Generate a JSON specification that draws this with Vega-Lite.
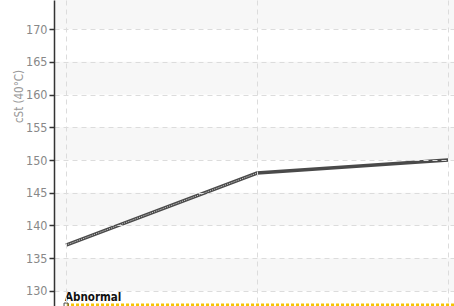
{
  "$schema": "https://vega.github.io/schema/vega-lite/v6.json",
  "autosize": "none",
  "padding": {"left": 54, "top": 0, "right": 0, "bottom": 0},
  "width": 400,
  "height": 306,
  "background": "white",
  "config": {"view": {"stroke": null}, "font": "DejaVu Sans Condensed, Roboto, sans-serif"},
  "datasets": {
    "bands": [
      {"cst": 170, "cst2": 175},
      {"cst": 160, "cst2": 165},
      {"cst": 150, "cst2": 155},
      {"cst": 140, "cst2": 145},
      {"cst": 130, "cst2": 135}
    ],
    "series": [
      {"sample": 0, "cst": 137},
      {"sample": 1, "cst": 148},
      {"sample": 2, "cst": 150}
    ],
    "first": [
      {"sample": 0, "cst": 137},
      {"sample": 1, "cst": 148}
    ],
    "limit": [
      {"sample": 0, "cst": 127.85, "label": "Abnormal"},
      {"sample": 2.1, "cst": 127.85, "label": ""}
    ]
  },
  "encoding": {
    "y": {"field": "cst", "type": "quantitative", "scale": {"domain": [127.7, 174.44], "nice": false, "zero": false},
      "axis": {"values": [130, 135, 140, 145, 150, 155, 160, 165, 170, 175], "zindex": 1, "labelOverlap": false,
        "title": "cSt (40°C)", "titleColor": "#999", "titleFont": "DejaVu Sans Condensed, Roboto, sans-serif", "titleFontSize": 11.5, "titleFontWeight": "normal",
        "titleX": -30, "titleY": 96, "titleAlign": "center", "titleBaseline": "bottom", "titleAngle": -90,
        "labelColor": "#888", "labelFont": "DejaVu Sans Condensed, Roboto, sans-serif", "labelFontSize": 12.5, "labelPadding": 2,
        "domainColor": "#333", "domainWidth": 1.5, "tickColor": "#333", "tickSize": 5, "tickWidth": 1.5,
        "grid": true, "gridColor": "#dcdcdc", "gridDash": [5, 4], "gridWidth": 1}}
  },
  "layer": [
    {
      "data": {"name": "bands"},
      "mark": {"type": "rect", "fill": "#f7f7f7", "clip": true},
      "encoding": {
        "y2": {"field": "cst2"}
      }
    },
    {
      "data": {"name": "series"},
      "mark": {"type": "line", "color": "#4a4a4a", "strokeWidth": 3.5, "clip": true},
      "encoding": {
        "x": {"field": "sample", "type": "quantitative", "scale": {"domain": [-0.063, 2.031], "nice": false, "zero": false},
          "axis": {"values": [0, 1, 2], "zindex": 1, "labels": false, "ticks": false, "domain": false, "title": null, "grid": true, "gridColor": "#dcdcdc", "gridDash": [5, 4], "gridWidth": 1}}
      }
    },
    {
      "data": {"name": "first"},
      "mark": {"type": "line", "color": "#d8d8d8", "strokeWidth": 1, "strokeDash": [1, 1], "clip": true},
      "encoding": {
        "x": {"field": "sample", "type": "quantitative"}
      }
    },
    {
      "data": {"name": "limit"},
      "mark": {"type": "line", "color": "#f5c400", "strokeWidth": 3, "strokeDash": [3, 2], "clip": true},
      "encoding": {
        "x": {"field": "sample", "type": "quantitative"}
      }
    },
    {
      "data": {"name": "limit"},
      "transform": [{"filter": "datum.label != ''"}],
      "mark": {"type": "point", "shape": "square", "size": 16, "filled": false, "stroke": "#000", "fill": "#fff", "strokeWidth": 1},
      "encoding": {
        "x": {"field": "sample", "type": "quantitative"}
      }
    },
    {
      "data": {"name": "limit"},
      "transform": [{"filter": "datum.label != ''"}],
      "mark": {"type": "text", "align": "left", "baseline": "alphabetic", "dy": -4, "dx": -1, "font": "DejaVu Sans Condensed, Roboto, sans-serif", "fontSize": 11.5, "fontWeight": "bold", "color": "#111"},
      "encoding": {
        "x": {"field": "sample", "type": "quantitative"},
        "text": {"field": "label"}
      }
    }
  ]
}
